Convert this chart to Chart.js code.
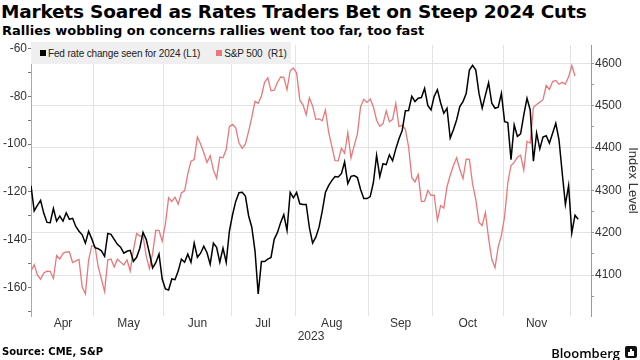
<!DOCTYPE html>
<html>
<head>
<meta charset="utf-8">
<script src="https://cdn.jsdelivr.net/npm/chart.js@4.4.1/dist/chart.umd.min.js"></script>
<style>
  html, body { margin:0; padding:0; background:#fff; }
  body { width:640px; height:360px; overflow:hidden; position:relative; font-family:"Liberation Sans", Arial, sans-serif; }
  #title { position:absolute; left:1px; top:1px; font:bold 18.5px "DejaVu Sans", sans-serif; color:#000; white-space:nowrap; letter-spacing:-0.2px; }
  #sub { position:absolute; left:2px; top:23px; font:bold 13px "DejaVu Sans", sans-serif; color:#000; white-space:nowrap; }
  #wrap { position:absolute; left:0; top:0; width:640px; height:360px; }
  #legend { position:absolute; left:31px; top:42px; width:260px; height:22px; background:#efefef; font:10px "Liberation Sans", sans-serif; letter-spacing:-0.15px; color:#222; display:flex; align-items:center; white-space:nowrap; z-index:2; }
  .sq { display:inline-block; width:6px; height:6px; margin-right:2px; }
  #source { position:absolute; left:2px; top:346px; font:bold 10px "DejaVu Sans", sans-serif; color:#000; white-space:nowrap; }
  #brand { position:absolute; right:20px; top:344px; font:600 13px "Open Sans", "DejaVu Sans", sans-serif; color:#000; white-space:nowrap; }
  #logo { position:absolute; left:625px; top:346px; width:12px; height:12px; background:#111; border-radius:2px; }
  #logo i { position:absolute; bottom:2px; width:2px; background:#fff; }
</style>
</head>
<body>
<div id="title">Markets Soared as Rates Traders Bet on Steep 2024 Cuts</div>
<div id="sub">Rallies wobbling on concerns rallies went too far, too fast</div>
<div id="wrap"><canvas id="c" width="640" height="360"></canvas></div>
<div id="legend"><span class="sq" style="background:#000;margin-left:9px"></span>Fed rate change seen for 2024 (L1)<span class="sq" style="background:#e8787b;margin-left:16px"></span>S&amp;P 500&nbsp;&nbsp;(R1)</div>
<div id="source">Source: CME, S&amp;P</div>
<div id="brand">Bloomberg</div>
<div id="logo"><i style="left:3px;height:4px"></i><i style="left:5px;height:7px"></i><i style="left:7px;height:5px"></i></div>
<script>
// Trading-day index 0 = Mar 31, 2023
const monthLabels = ['Apr','May','Jun','Jul','Aug','Sep','Oct','Nov'];
const monthStartIdx = [1, 20, 42, 63, 83, 106, 126, 148, 169]; // first trading day of Apr..Dec
const yearLabel = '2023';

// Fed rate change seen for 2024, bp (L1) — Mar 31 .. Dec 5
const fedRateChange = [
 -117.4,-128,-125.7,-123.6,-129,-132.8,-132.9,-127,-132.3,-130.2,
 -132.3,-128.8,-131.5,-131.1,-134.5,-136.5,-138,-141.5,-136.5,-139.7,
 -143.4,-143.8,-144.7,-147,-137.4,-137.8,-139.9,-142,-143.2,-145.7,
 -144.9,-144.5,-149.1,-147.4,-143.6,-137,-139.9,-145.7,-151.9,-149.7,
 -146.1,-156.5,-160.7,-161.1,-156.5,-156.8,-153.2,-148.2,-149.5,-146.1,
 -149.5,-141.5,-147.4,-145.7,-142.8,-145.5,-150.3,-141.5,-143.2,-149.5,
 -143.6,-149.5,-136.4,-129.5,-123.9,-120.4,-120.2,-121.8,-130,-134.8,
 -144.7,-162.8,-149.2,-149.2,-148.2,-147.5,-139.9,-137.1,-132.9,-129.5,
 -136.1,-120.2,-122.5,-120.2,-125,-125.3,-125.3,-135,-141.5,-139,
 -134.9,-128.2,-120.3,-117.4,-115.3,-113.6,-113.8,-112.4,-107.5,-116.5,
 -113.5,-113.2,-114,-119,-122.8,-122.8,-122,-116.1,-104.7,-113.6,
 -108.2,-108.6,-104.5,-107,-102,-97.8,-94.3,-86,-85.9,-80,
 -82.2,-80.8,-80.5,-76.7,-83.8,-85.7,-80,-77.2,-82.7,-87.1,
 -85,-97.5,-94,-89.9,-84.3,-82.2,-78.8,-69,-67,-69,
 -78.8,-85,-79.5,-74.3,-82.9,-85,-84.5,-78.8,-90.6,-91,
 -106.5,-92,-96.8,-95.7,-87.8,-80.8,-85.7,-107.2,-95.4,-102,
 -97.1,-96.5,-99.6,-95.5,-91.3,-98.2,-112,-125.3,-117.4,-137.2,
 -129.8,-131.5
];

// S&P 500 (R1) — Mar 31 .. Dec 4
const sp500 = [
 4109.31,
 4124.51,4100.60,4090.38,4105.02,4109.11,4108.94,4091.95,4146.22,4137.64,4151.32,
 4154.87,4154.52,4129.79,4133.52,4137.04,4071.63,4055.99,4135.35,4169.48,
 4167.87,4119.58,4090.75,4061.22,4136.25,4138.12,4119.17,4137.64,4130.62,4124.08,
 4136.28,4109.90,4158.77,4198.05,4191.98,4192.63,4145.58,4115.24,4151.28,4205.45,
 4205.52,4179.83,
 4221.02,4282.37,4273.79,4283.85,4267.52,4293.93,4298.86,4338.93,4369.01,4372.59,
 4425.84,4409.59,4388.71,4365.69,4381.89,4348.33,4328.82,4378.41,4376.86,4396.44,
 4450.38,
 4455.59,4446.82,4411.59,4398.95,4409.53,4439.26,4472.16,4510.04,4505.42,4522.79,
 4554.98,4565.72,4534.87,4536.34,4554.64,4567.46,4566.75,4537.41,4582.23,4588.96,
 4576.73,4513.39,4501.89,4478.03,4518.44,4499.38,4467.71,4468.83,4464.05,4489.72,
 4437.86,4404.33,4370.36,4369.71,4399.77,4387.55,4436.01,4376.31,4405.71,4433.31,
 4497.63,4514.87,4507.66,
 4515.77,4496.83,4465.48,4451.14,4457.49,4487.46,4461.90,4467.44,4505.10,4450.32,
 4453.53,4443.95,4402.20,4330.00,4320.06,4337.44,4273.53,4274.51,4299.70,4288.05,
 4288.39,4229.45,4263.75,4258.19,4308.50,4335.66,4358.24,4376.95,4349.61,4327.78,
 4373.63,4373.20,4314.60,4278.00,4224.16,4217.04,4247.68,4186.77,4137.23,4117.37,
 4166.82,4193.80,
 4237.86,4317.78,4358.34,4365.98,4378.38,4382.78,4347.35,4415.24,4411.55,4495.70,
 4502.88,4508.24,4514.02,4547.38,4538.19,4556.62,4559.34,4550.43,4554.89,4550.58,
 4567.80,
 4594.63,4569.78
];

const leftTicks = [-170,-160,-150,-140,-130,-120,-110,-100,-90,-80,-70,-60];
const leftLabelStep = 20;
const rightTicks = [4050,4100,4150,4200,4250,4300,4350,4400,4450,4500,4550,4600];
const rightLabelStep = 100;

const monthBoundaries = monthStartIdx.slice(1).map(v => v - 0.5);
const monthCenters = monthLabels.map((m, i) => (monthStartIdx[i] + monthStartIdx[i + 1] - 1) / 2);

const FONT = '"Liberation Sans", Arial, sans-serif';
const RED = '#e8787b';

new Chart(document.getElementById('c'), {
  type: 'line',
  data: {
    datasets: [
      { label: 'Fed rate change seen for 2024 (L1)', data: fedRateChange.map((v, i) => ({x: i, y: v})),
        borderColor: '#000', borderWidth: 1.5, pointRadius: 0, tension: 0, xAxisID: 'x', yAxisID: 'y1' },
      { label: 'S&P 500 (R1)', data: sp500.map((v, i) => ({x: i, y: v})),
        borderColor: RED, borderWidth: 1.3, pointRadius: 0, tension: 0, xAxisID: 'x', yAxisID: 'y2' }
    ]
  },
  options: {
    responsive: false, animation: false, devicePixelRatio: 1,
    layout: { padding: { top: 45, bottom: 17, left: 0, right: 0 } },
    plugins: { legend: { display: false }, tooltip: { enabled: false } },
    scales: {
      x: { type: 'linear', position: 'bottom', min: 0, max: 175, weight: 0,
        afterBuildTicks: s => { s.ticks = monthBoundaries.map(v => ({value: v})); },
        afterFit: s => { s.height = 0; },
        grid: { color: '#e3e3e3', lineWidth: 1, drawTicks: false },
        border: { display: false },
        ticks: { display: false } },
      xl: { type: 'linear', position: 'bottom', min: 0, max: 175, weight: 1,
        afterBuildTicks: s => { s.ticks = monthCenters.map(v => ({value: v})); },
        afterFit: s => { s.height = 27; },
        grid: { display: false, drawTicks: false },
        border: { display: false },
        ticks: { autoSkip: false, maxRotation: 0, padding: 2, color: '#333',
          font: { family: FONT, size: 12, lineHeight: 1 },
          callback: (v, i) => monthLabels[i] },
        title: { display: true, text: yearLabel, color: '#333', font: { family: FONT, size: 12, lineHeight: 1 }, padding: { top: 0, bottom: 0 } } },
      y1: { type: 'linear', position: 'left', min: -172, max: -58.5,
        afterBuildTicks: s => { s.ticks = leftTicks.map(v => ({value: v})); },
        afterFit: s => { s.width = 31; },
        grid: { drawOnChartArea: false, tickLength: 3, color: '#777' },
        border: { color: '#aaa' },
        ticks: { padding: 1, color: '#333', font: { family: FONT, size: 12 },
          callback: v => (v % leftLabelStep === 0 ? String(v) : '') } },
      y2: { type: 'linear', position: 'right', min: 4003.5, max: 4643,
        afterBuildTicks: s => { s.ticks = rightTicks.map(v => ({value: v})); },
        afterFit: s => { s.width = 49; },
        grid: { tickLength: 3, tickColor: '#999',
          color: ctx => (ctx.tick && ctx.tick.value % rightLabelStep === 0 ? '#e3e3e3' : 'rgba(0,0,0,0)') },
        border: { color: RED },
        ticks: { padding: 1, color: '#333', font: { family: FONT, size: 12 },
          callback: v => (v % rightLabelStep === 0 ? String(v) : '') },
        title: { display: true, text: 'Index Level', color: '#333', font: { family: FONT, size: 13, lineHeight: 1 }, padding: { top: 1, bottom: 0 } } }
    }
  }
});
</script>
</body>
</html>
